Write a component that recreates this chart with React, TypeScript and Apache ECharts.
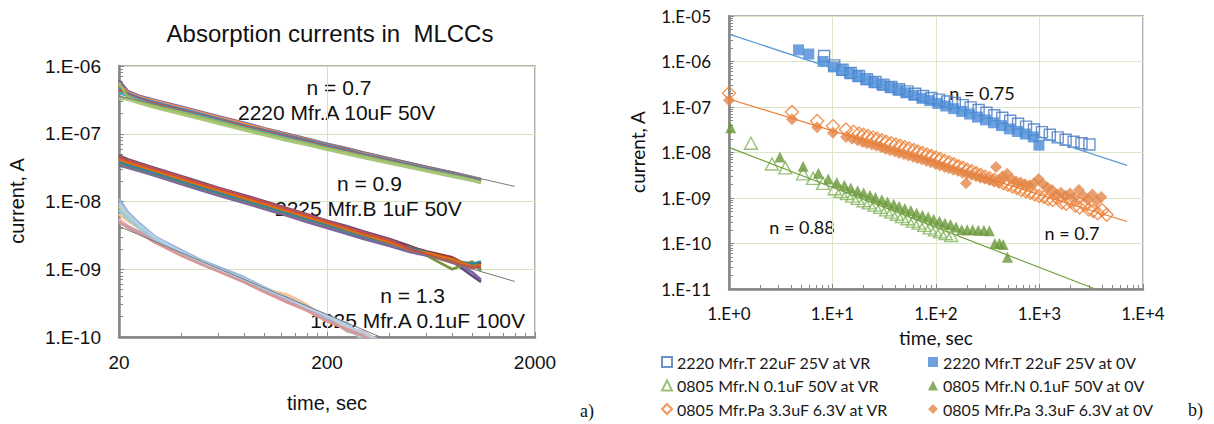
import React, { useEffect, useRef } from "react";
import * as echarts from "echarts";

// ================= Panel a) : absorption currents in MLCCs =================
const timeA = [20, 22, 25, 30, 40, 50, 60, 80, 100, 130, 160, 200, 250, 300, 400, 500, 600, 800, 1000, 1100];
const timeC = [20, 22, 25, 30, 40, 50, 60, 80, 100, 130, 160, 200, 250, 300, 400];

// 2220 Mfr.A 10uF 50V, currents in nA
const group2220_nA = [
  [620, 430, 365, 313, 250, 210, 181, 145, 121, 99, 85, 71, 61, 53, 43, 37, 32.5, 27, 23, 21.4],
  [520, 410, 352, 302, 241, 202, 175, 140, 117, 96, 83, 69.5, 59.5, 52, 42, 36, 31.7, 26.4, 22.6, 21],
  [480, 395, 340, 289, 231, 194, 168, 134, 112, 92, 79.5, 67, 57.5, 50, 40.8, 35, 30.9, 25.8, 22.1, 20.6],
  [440, 380, 325, 275, 220, 185, 160, 128, 107, 88, 76, 64, 55, 48, 39.5, 34, 30, 25, 21.5, 20],
  [400, 365, 312, 264, 211, 178, 154, 123, 103, 85, 73.5, 62, 53.5, 46.8, 38.6, 33.3, 29.4, 24.5, 21.1, 19.6],
  [340, 330, 292, 248, 198, 167, 145, 116, 97.5, 80.5, 70, 59.5, 51.5, 45, 37.3, 32.2, 28.5, 23.7, 20.4, 19],
  [560, 350, 300, 256, 205, 172, 149, 119.5, 100, 82.5, 71.5, 60.5, 52.5, 46, 38, 32.7, 28.9, 24.1, 20.7, 19.3],
  [330, 320, 283, 240, 192, 162, 140, 113, 95, 78.5, 68, 58, 50, 44, 36.5, 31.6, 28, 23.3, 20.2, 18.8],
];
const colors2220 = ["#8064A2", "#F79646", "#4F81BD", "#C0504D", "#4BACC6", "#8C8C8C", "#9BBB59", "#A9C77A"];

// 2225 Mfr.B 1uF 50V, currents in nA
const group2225_nA = [
  [48, 42, 37, 31, 23.5, 19, 16, 12.4, 10.1, 7.9, 6.5, 5.2, 4.3, 3.6, 2.8, 2.2, 1.75, 1.3, 0.8, 0.65],
  [44, 39, 34.5, 29, 22.1, 17.8, 15.1, 11.7, 9.5, 7.45, 6.15, 4.95, 4.05, 3.4, 2.6, 2.15, 1.85, 1.5, 1.05, 1.25],
  [40, 36, 32, 27, 20.5, 16.5, 14, 10.8, 8.8, 6.9, 5.7, 4.6, 3.75, 3.15, 2.45, 1.85, 1.7, 1.3, 1.15, 1.0],
  [36, 34, 30, 25.4, 19.3, 15.5, 13.2, 10.2, 8.3, 6.5, 5.35, 4.35, 3.55, 2.95, 2.35, 2.1, 1.6, 1.0, 1.3, 0.95],
  [34, 31.5, 28.2, 23.8, 18, 14.5, 12.3, 9.5, 7.75, 6.1, 5.0, 4.05, 3.3, 2.8, 2.2, 1.8, 1.6, 1.4, 0.9, 0.7],
  [38, 35, 31, 26.2, 19.9, 16, 13.6, 10.5, 8.55, 6.7, 5.5, 4.5, 3.5, 3.05, 2.35, 2.05, 1.8, 1.35, 1.2, 1.3],
  [42, 37.5, 33.3, 28.1, 21.3, 17.2, 14.6, 11.2, 9.15, 7.2, 5.9, 4.8, 3.9, 3.25, 2.5, 1.9, 1.75, 1.4, 1.1, 1.15],
  [46, 40.5, 36, 30.2, 23, 18.5, 15.7, 12.1, 9.85, 7.7, 6.4, 5.1, 4.15, 3.5, 2.7, 2.0, 1.65, 1.25, 1.05, 1.1],
];
const colors2225 = ["#604A7B", "#953735", "#4F81BD", "#77933C", "#8064A2", "#31859C", "#E46C0A", "#C0504D"];

// 1825 Mfr.A 0.1uF 100V, currents in pA
const group1825_pA = [
  [11000, 7000, 4800, 3000, 1900, 1350, 1080, 760, 540, 380, 260, 200, 150, 95, 60],
  [5500, 4400, 3500, 2500, 1600, 1180, 940, 650, 470, 330, 250, 175, 135, 120, 70],
  [8500, 6000, 4200, 2800, 1750, 1280, 1000, 690, 510, 360, 280, 200, 120, 110, 60],
  [6500, 5200, 4000, 2700, 1700, 1260, 990, 670, 500, 420, 300, 180, 150, 85, 55],
  [4800, 4300, 3600, 2600, 1650, 1220, 970, 680, 480, 340, 270, 185, 125, 100, 65],
  [7500, 5600, 4100, 2750, 1720, 1240, 1010, 700, 520, 370, 285, 195, 160, 90, 58],
  [5000, 4100, 3400, 2450, 1580, 1170, 930, 640, 460, 320, 245, 170, 130, 105, 62],
  [9500, 6500, 4500, 2900, 1800, 1300, 1020, 720, 530, 365, 275, 205, 145, 115, 75],
];
const colors1825 = ["#95B3D7", "#E6B9B8", "#C3D69B", "#FAC090", "#B3A2C7", "#93CDDD", "#D99694", "#B9CDE5"];

// power-law fits (gray): [time, current] end points
const fit2220 = [[20, 3.6e-7], [1600, 1.67e-8]];
const fit2225 = [[20, 3.4e-8], [1600, 6.6e-10]];
const fit1825 = [[20, 4.3e-9], [450, 7.5e-11]];

const ticksA_x = [20, 200, 2000];
const ticksA_y = [1e-10, 1e-9, 1e-8, 1e-7, 1e-6];
const minorA_x = [40, 60, 80, 100, 120, 140, 160, 180, 400, 600, 800, 1000, 1200, 1400, 1600, 1800];

// ================= Panel b) =================
const seriesNames = [
  "2220 Mfr.T 22uF 25V at VR",
  "2220 Mfr.T 22uF 25V at 0V",
  "0805 Mfr.N 0.1uF 50V at VR",
  "0805 Mfr.N 0.1uF 50V at 0V",
  "0805 Mfr.Pa 3.3uF 6.3V at VR",
  "0805 Mfr.Pa 3.3uF 6.3V at 0V",
];

const blueVR_t = [8.3, 10.4, 12.5, 15, 18, 21.5, 26, 31, 37, 44, 53, 63, 75, 90, 107, 128, 152, 181, 216, 258, 307, 366, 437, 521, 621, 741, 884, 1055, 1258, 1500, 1789, 2134, 2545, 3035];
const blueVR_I = [1.32e-6, 8.2e-7, 6.6e-7, 5.6e-7, 4.8e-7, 4.1e-7, 3.55e-7, 3.1e-7, 2.75e-7, 2.45e-7, 2.2e-7, 1.95e-7, 1.75e-7, 1.58e-7, 1.45e-7, 1.32e-7, 1.22e-7, 1.1e-7, 9.8e-8, 8.6e-8, 7.5e-8, 6.6e-8, 5.8e-8, 5.0e-8, 4.3e-8, 3.7e-8, 3.2e-8, 2.8e-8, 2.45e-8, 2.15e-8, 1.9e-8, 1.72e-8, 1.6e-8, 1.5e-8];

const blue0V_t = [4.7, 5.9, 8.1, 10.2, 12.2, 14.6, 17.5, 21, 25, 30, 36, 43, 51, 61, 73, 87, 104, 124, 148, 177, 211, 252, 301, 359, 429, 512, 611, 729, 870, 988];
const blue0V_I = [1.8e-6, 1.46e-6, 1.0e-6, 7.6e-7, 6.4e-7, 5.5e-7, 4.7e-7, 4.0e-7, 3.5e-7, 3.05e-7, 2.7e-7, 2.35e-7, 2.05e-7, 1.8e-7, 1.55e-7, 1.38e-7, 1.2e-7, 1.05e-7, 9.2e-8, 8.0e-8, 7.0e-8, 6.0e-8, 5.2e-8, 4.5e-8, 3.9e-8, 3.3e-8, 2.9e-8, 2.55e-8, 2.2e-8, 1.45e-8];

const greenVR_t = [1.63, 2.6, 3.5, 5.2, 6.5, 8.1, 10.5, 12, 13.8, 15.5, 17.5, 20, 22.5, 25.5, 29, 33, 37, 42, 47, 53, 60, 68, 77, 87, 98, 110, 124, 140];
const greenVR_I = [1.6e-8, 5.6e-9, 4.6e-9, 3.4e-9, 2.7e-9, 2.1e-9, 1.6e-9, 1.4e-9, 1.25e-9, 1.1e-9, 9.8e-10, 8.7e-10, 7.8e-10, 7.0e-10, 6.2e-10, 5.5e-10, 4.9e-10, 4.4e-10, 3.9e-10, 3.5e-10, 3.1e-10, 2.8e-10, 2.5e-10, 2.2e-10, 2.0e-10, 1.8e-10, 1.65e-10, 1.5e-10];

const green0V_t = [1.04, 3.1, 5.2, 7.3, 9.1, 11, 13, 15, 17.5, 20, 23, 26, 30, 34, 39, 44, 50, 57, 65, 74, 84, 95, 108, 122, 138, 156, 177, 200, 226, 256, 290, 328, 370, 410, 445, 490];
const green0V_I = [3.5e-8, 8e-9, 5.0e-9, 3.5e-9, 2.6e-9, 2.2e-9, 1.9e-9, 1.65e-9, 1.45e-9, 1.3e-9, 1.15e-9, 1.02e-9, 9.2e-10, 8.2e-10, 7.3e-10, 6.6e-10, 5.9e-10, 5.3e-10, 4.7e-10, 4.2e-10, 3.8e-10, 3.4e-10, 3.1e-10, 2.8e-10, 2.6e-10, 2.3e-10, 2.0e-10, 2.0e-10, 2.0e-10, 1.95e-10, 1.95e-10, 1.9e-10, 1.0e-10, 1.0e-10, 9.5e-11, 5.0e-11];

const orangeVR_t = [1, 4.06, 7.1, 10.1, 13.5, 16, 18, 20, 22, 24.5, 27, 30, 33, 37, 41, 45, 50, 55, 61, 67, 74, 82, 90, 100, 110, 122, 135, 149, 165, 182, 201, 222, 245, 271, 300, 331, 366, 405, 447, 494, 546, 604, 667, 737, 815, 900, 995, 1100, 1215, 1343, 1484, 1640, 1812, 2003, 2213, 2446, 2703, 2987, 3301, 3648, 4031, 4455];
const orangeVR_I = [2.0e-7, 7.8e-8, 4.9e-8, 3.8e-8, 3.2e-8, 2.85e-8, 2.6e-8, 2.45e-8, 2.3e-8, 2.15e-8, 2.0e-8, 1.85e-8, 1.72e-8, 1.6e-8, 1.5e-8, 1.4e-8, 1.3e-8, 1.22e-8, 1.13e-8, 1.05e-8, 9.7e-9, 9.0e-9, 8.4e-9, 7.8e-9, 7.2e-9, 6.6e-9, 6.0e-9, 5.5e-9, 5.0e-9, 4.6e-9, 4.2e-9, 3.85e-9, 3.5e-9, 3.2e-9, 2.95e-9, 2.7e-9, 2.5e-9, 2.3e-9, 2.1e-9, 1.95e-9, 1.8e-9, 1.65e-9, 1.5e-9, 1.4e-9, 1.3e-9, 1.2e-9, 1.1e-9, 1.05e-9, 9.5e-10, 9e-10, 1.0e-9, 8e-10, 7.5e-10, 8.5e-10, 6.8e-10, 6.2e-10, 7.0e-10, 5.6e-10, 5.2e-10, 4.6e-10, 5.4e-10, 4.3e-10];

const orange0V_t = [1, 4.06, 7.1, 10.1, 13.5, 15.5, 17.5, 19.5, 21.5, 24, 26.5, 29.5, 32.5, 36, 40, 44, 49, 54, 60, 66, 73, 81, 89, 99, 109, 121, 133, 147, 163, 180, 195, 199, 220, 243, 268, 296, 327, 361, 380, 399, 441, 487, 538, 595, 657, 726, 802, 886, 979, 1082, 1195, 1320, 1459, 1612, 1781, 1968, 2174, 2402, 2654, 2932, 3240, 3580, 3955];
const orange0V_I = [1.4e-7, 5.4e-8, 3.6e-8, 2.7e-8, 2.2e-8, 2.0e-8, 1.85e-8, 1.7e-8, 1.6e-8, 1.5e-8, 1.4e-8, 1.3e-8, 1.2e-8, 1.12e-8, 1.05e-8, 9.8e-9, 9.2e-9, 8.6e-9, 8.0e-9, 7.5e-9, 7.0e-9, 6.5e-9, 6.1e-9, 5.6e-9, 5.2e-9, 4.8e-9, 4.5e-9, 4.2e-9, 3.9e-9, 3.6e-9, 2.1e-9, 3.4e-9, 3.2e-9, 3.0e-9, 2.8e-9, 2.65e-9, 2.5e-9, 2.4e-9, 4.8e-9, 2.3e-9, 3.0e-9, 3.4e-9, 2.6e-9, 2.3e-9, 2.2e-9, 2.0e-9, 1.9e-9, 2.1e-9, 2.6e-9, 2.0e-9, 1.7e-9, 1.5e-9, 1.2e-9, 1.3e-9, 1.1e-9, 1.25e-9, 1.0e-9, 1.5e-9, 1.1e-9, 9e-10, 1.2e-9, 8.5e-10, 1.05e-9];

// power-law fits: [time, current] end points
const fitBlue = [[1, 4.0e-6], [7000, 5.2e-9]];
const fitOrange = [[1, 1.5e-7], [7000, 3.05e-10]];
const fitGreen = [[1, 1.3e-8], [3500, 9.9e-12]];

const ticksB_x = [1, 10, 100, 1000, 10000];
const ticksB_y = [1e-11, 1e-10, 1e-9, 1e-8, 1e-7, 1e-6, 1e-5];
const mantissas = [2, 3, 4, 5, 6, 7, 8, 9];

function logMinors(d0: number, d1: number) {
  const out: number[] = [];
  for (let d = d0; d < d1; d++) for (const k of mantissas) out.push(k * Math.pow(10, d));
  return out;
}

function expLabel(v: number, pad: boolean) {
  const e = Math.round(Math.log10(v));
  const a = Math.abs(e);
  return "1.E" + (e < 0 ? "-" : "+") + (pad && a < 10 ? "0" + a : String(a));
}

const pairs = (t: number[], v: number[], k: number) => v.map((y, i) => [t[i], y * k]);

const ARIAL = "'Liberation Sans', Arial, sans-serif";
const CALI = "Lato, 'Open Sans', sans-serif";
const GRIDLINE_A = "#d6e3bc";
const GRIDLINE_B = "#dce6c8";
const AXIS = "#868686";

function buildOption() {
  const leftSeries: any[] = [];
  group1825_pA.forEach((v, i) =>
    leftSeries.push({
      type: "line", xAxisIndex: 0, yAxisIndex: 0, showSymbol: false, symbol: "none",
      data: pairs(timeC, v, 1e-12), lineStyle: { width: 2.6, color: colors1825[i] }, z: 2,
    })
  );
  group2225_nA.forEach((v, i) =>
    leftSeries.push({
      type: "line", xAxisIndex: 0, yAxisIndex: 0, showSymbol: false, symbol: "none",
      data: pairs(timeA, v, 1e-9), lineStyle: { width: 2.6, color: colors2225[i] }, z: 2,
    })
  );
  group2220_nA.forEach((v, i) =>
    leftSeries.push({
      type: "line", xAxisIndex: 0, yAxisIndex: 0, showSymbol: false, symbol: "none",
      data: pairs(timeA, v, 1e-9), lineStyle: { width: 2.6, color: colors2220[i] }, z: 2,
    })
  );
  [fit2220, fit2225, fit1825].forEach((d) =>
    leftSeries.push({
      type: "line", xAxisIndex: 0, yAxisIndex: 0, showSymbol: false, symbol: "none",
      data: d, lineStyle: { width: 1, color: "#7a7a7a" }, z: 3,
    })
  );

  const open = (c: string) => ({ color: "rgba(255,255,255,0)", borderColor: c, borderWidth: 1.4 });
  const rightSeries: any[] = [
    { name: seriesNames[0], type: "scatter", xAxisIndex: 2, yAxisIndex: 2, symbol: "rect", symbolSize: 11,
      data: pairs(blueVR_t, blueVR_I, 1), itemStyle: open("#4478c0") },
    { name: seriesNames[1], type: "scatter", xAxisIndex: 2, yAxisIndex: 2, symbol: "rect", symbolSize: 11,
      data: pairs(blue0V_t, blue0V_I, 1), itemStyle: { color: "#4a8ad6" } },
    { name: seriesNames[2], type: "scatter", xAxisIndex: 2, yAxisIndex: 2, symbol: "triangle", symbolSize: [13, 12],
      data: pairs(greenVR_t, greenVR_I, 1), itemStyle: open("#7fb356") },
    { name: seriesNames[3], type: "scatter", xAxisIndex: 2, yAxisIndex: 2, symbol: "triangle", symbolSize: [11, 11],
      data: pairs(green0V_t, green0V_I, 1), itemStyle: { color: "#6a983a" } },
    { name: seriesNames[4], type: "scatter", xAxisIndex: 2, yAxisIndex: 2, symbol: "diamond", symbolSize: 13,
      data: pairs(orangeVR_t, orangeVR_I, 1), itemStyle: open("#ED7D31") },
    { name: seriesNames[5], type: "scatter", xAxisIndex: 2, yAxisIndex: 2, symbol: "diamond", symbolSize: 12,
      data: pairs(orange0V_t, orange0V_I, 1), itemStyle: { color: "#e4874a" } },
  ];
  [
    [fitBlue, "#5B9BD5"],
    [fitOrange, "#ED7D31"],
    [fitGreen, "#70A03F"],
  ].forEach(([d, c]: any) =>
    rightSeries.push({
      type: "line", xAxisIndex: 2, yAxisIndex: 2, showSymbol: false, symbol: "none",
      data: d, lineStyle: { width: 1.2, color: c }, z: 3,
    })
  );

  const mainX = (grid: number, min: number, max: number, ticks: number[], fmt: (v: number) => string, font: string, fs: number, gl: string) => ({
    type: "log", gridIndex: grid, min, max, logBase: 10, position: "bottom",
    axisLine: { show: true, lineStyle: { color: AXIS, width: 2.5 } },
    axisTick: { show: true, inside: true, length: 5, customValues: ticks, lineStyle: { color: AXIS, width: 1 } },
    axisLabel: { show: true, customValues: ticks, formatter: fmt, margin: 16, color: "#111", fontSize: fs, fontFamily: font, fontWeight: "normal" },
    splitLine: { show: true, lineStyle: { color: gl, width: 1 } },
  });
  const mainY = (grid: number, min: number, max: number, ticks: number[], fmt: (v: number) => string, font: string, fs: number, gl: string) => ({
    type: "log", gridIndex: grid, min, max, logBase: 10, position: "left",
    axisLine: { show: true, lineStyle: { color: AXIS, width: 2.5 } },
    axisTick: { show: true, inside: true, length: 5, customValues: ticks, lineStyle: { color: AXIS, width: 1 } },
    axisLabel: { show: true, customValues: ticks, formatter: fmt, margin: 18, color: "#111", fontSize: fs, fontFamily: font, fontWeight: "normal" },
    splitLine: { show: true, lineStyle: { color: gl, width: 1 } },
  });
  const minorAxis = (grid: number, min: number, max: number, ticks: number[], pos: string) => ({
    type: "log", gridIndex: grid, min, max, logBase: 10, position: pos,
    axisLine: { show: false },
    axisTick: { show: true, inside: true, length: 4, customValues: ticks, lineStyle: { color: AXIS, width: 1 } },
    axisLabel: { show: false },
    splitLine: { show: false },
  });

  const txt = (text: string, x: number, y: number, fs: number, font: string, align = "center", rotation = 0) => ({
    type: "text", x, y, rotation, silent: true,
    style: { text, fill: "#111", fontSize: fs, fontFamily: font, fontWeight: "normal", align, verticalAlign: "middle" },
  });

  const legendBase = {
    top: 354, orient: "vertical", itemWidth: 10, itemHeight: 10, itemGap: 7.5, padding: 0, height: 70,
    selectedMode: false, icon: undefined,
    textStyle: { fontFamily: CALI, fontSize: 16, lineHeight: 16, color: "#1a1a1a", padding: [0, 0, 0, 0] },
  };

  return {
    animation: false,
    backgroundColor: "#ffffff",
    textStyle: { fontFamily: ARIAL },
    grid: [
      { left: 119, top: 66, width: 416, height: 271, show: true, borderColor: "#9a9a9a", borderWidth: 1.5, backgroundColor: "transparent", containLabel: false, outerBoundsMode: "none" },
      { left: 729, top: 16, width: 414, height: 273, show: true, borderColor: "#9a9a9a", borderWidth: 1.5, backgroundColor: "transparent", containLabel: false, outerBoundsMode: "none" },
    ],
    xAxis: [
      mainX(0, 20, 2000, ticksA_x, (v: number) => String(Math.round(v)), ARIAL, 19, GRIDLINE_A),
      minorAxis(0, 20, 2000, minorA_x, "bottom"),
      mainX(1, 1, 10000, ticksB_x, (v: number) => expLabel(v, false), CALI, 17, GRIDLINE_B),
      minorAxis(1, 1, 10000, logMinors(0, 4), "bottom"),
    ],
    yAxis: [
      mainY(0, 1e-10, 1e-6, ticksA_y, (v: number) => expLabel(v, true), ARIAL, 19, GRIDLINE_A),
      minorAxis(0, 1e-10, 1e-6, logMinors(-10, -6), "left"),
      mainY(1, 1e-11, 1e-5, ticksB_y, (v: number) => expLabel(v, true), CALI, 17, GRIDLINE_B),
      minorAxis(1, 1e-11, 1e-5, logMinors(-11, -5), "left"),
    ],
    legend: [
      { ...legendBase, left: 661, data: [seriesNames[0], seriesNames[2], seriesNames[4]] },
      { ...legendBase, left: 928, data: [seriesNames[1], seriesNames[3], seriesNames[5]] },
    ],
    graphic: [
      txt("Absorption currents in  MLCCs", 330, 33, 24, ARIAL),
      txt("n = 0.7", 339, 87, 21, ARIAL),
      txt("2220 Mfr.A 10uF 50V", 238, 112, 21, ARIAL, "left"),
      txt("n = 0.9", 337, 183, 21, ARIAL, "left"),
      txt("2225 Mfr.B 1uF 50V", 275, 208, 21, ARIAL, "left"),
      txt("n = 1.3", 445, 295, 21, ARIAL, "right"),
      txt("1825 Mfr.A 0.1uF 100V", 525, 320, 21, ARIAL, "right"),
      txt("current, A", 17, 201, 20, ARIAL, "center", Math.PI / 2),
      txt("time, sec", 327, 403, 20, ARIAL),
      { type: "text", x: 580, y: 411, silent: true, style: { text: "a)", fill: "#111", fontSize: 18, fontFamily: "'Liberation Serif', serif", align: "left", verticalAlign: "middle" } },
      txt("n = 0.75", 982, 93, 18, CALI),
      txt("n = 0.88", 802, 227, 18, CALI),
      txt("n = 0.7", 1072, 233, 18, CALI),
      txt("current, A", 637, 152, 19, CALI, "center", Math.PI / 2),
      txt("time, sec", 936, 337, 19, CALI),
      { type: "text", x: 1188, y: 410, silent: true, style: { text: "b)", fill: "#111", fontSize: 18, fontFamily: "'Liberation Serif', serif", align: "left", verticalAlign: "middle" } },
    ],
    series: [...leftSeries, ...rightSeries],
  };
}

export default function App() {
  const ref = useRef<HTMLDivElement>(null);
  useEffect(() => {
    if (!ref.current) return;
    const chart = echarts.init(ref.current, null, { renderer: "svg" });
    chart.setOption(buildOption() as any);
    return () => chart.dispose();
  }, []);
  return (
    <div
      ref={ref}
      style={{ position: "absolute", left: 0, top: 0, width: 1214, height: 424, background: "#fff" }}
    />
  );
}
